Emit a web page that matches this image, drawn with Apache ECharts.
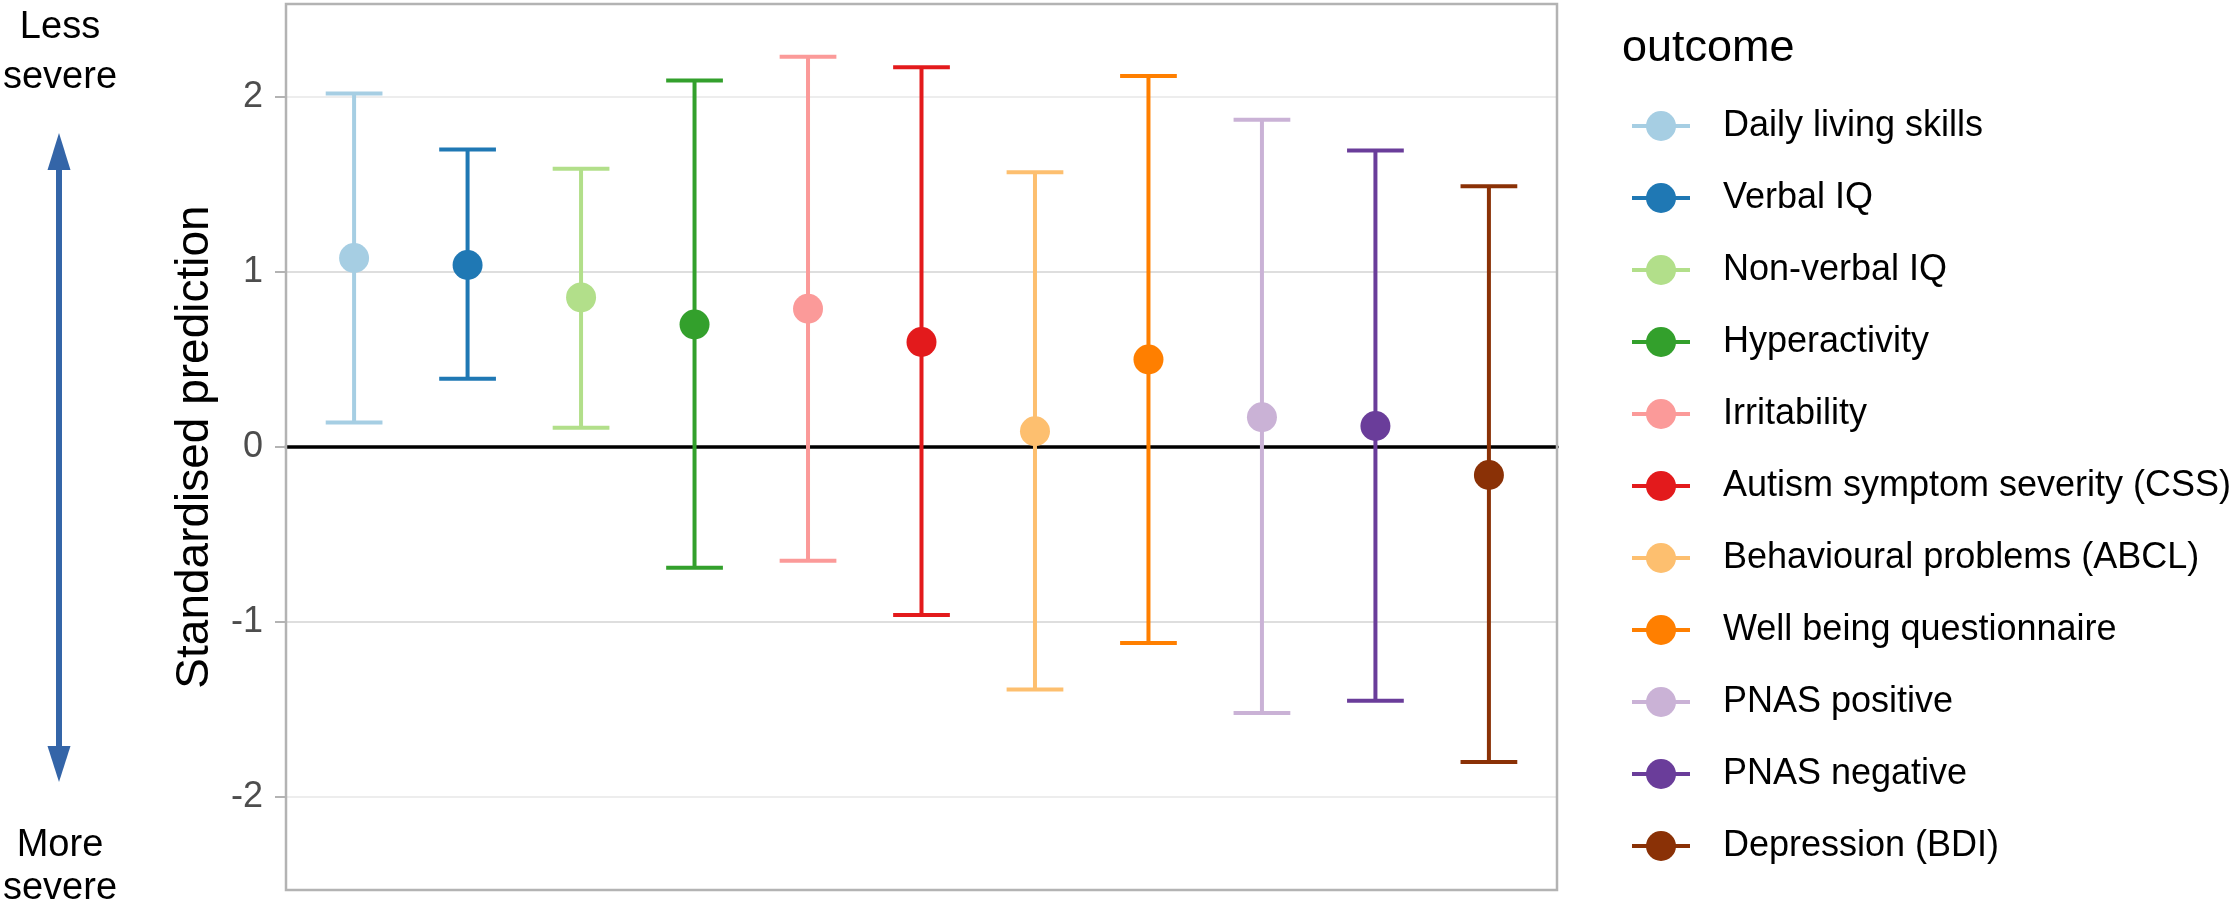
<!DOCTYPE html>
<html>
<head>
<meta charset="utf-8">
<script src="https://cdn.jsdelivr.net/npm/echarts@6/dist/echarts.min.js"></script>
<style>
html,body{margin:0;padding:0;background:#ffffff;}
#c{width:2236px;height:902px;}
</style>
</head>
<body>
<div id="c"></div>
<script>
// ---- data ----
const categories = [
  'Daily living skills',
  'Verbal IQ',
  'Non-verbal IQ',
  'Hyperactivity',
  'Irritability',
  'Autism symptom severity (CSS)',
  'Behavioural problems (ABCL)',
  'Well being questionnaire',
  'PNAS positive',
  'PNAS negative',
  'Depression (BDI)'
];
const estimate = [1.08, 1.04, 0.855, 0.70, 0.79, 0.60, 0.09, 0.50, 0.17, 0.12, -0.16];
const lower    = [0.14, 0.39, 0.11, -0.69, -0.65, -0.96, -1.385, -1.12, -1.52, -1.45, -1.80];
const upper    = [2.02, 1.70, 1.59, 2.095, 2.23, 2.17, 1.57, 2.12, 1.87, 1.695, 1.49];
const colors   = ['#A6CEE3', '#1F78B4', '#B2DF8A', '#33A02C', '#FB9A99', '#E31A1C',
                  '#FDBF6F', '#FF7F00', '#CAB2D6', '#6A3D9A', '#8A3106'];
const yTicks = [-2, -1, 0, 1, 2];
const yTitle = 'Standardised prediction';
const legendTitle = 'outcome';
const topNote = ['Less', 'severe'];
const bottomNote = ['More', 'severe'];

// ---- chart ----
const FONT = '"Liberation Sans", Arial, Helvetica, sans-serif';
const chart = echarts.init(document.getElementById('c'), null, {renderer: 'canvas'});

const series = [];
categories.forEach(function (name, i) {
  series.push({
    type: 'line',
    name: name,
    data: [[i + 1, estimate[i]]],
    symbol: 'circle',
    symbolSize: 30,
    itemStyle: {color: colors[i], borderWidth: 0},
    lineStyle: {color: colors[i], width: 4},
    z: 5,
    silent: true
  });
});
categories.forEach(function (name, i) {
  series.push({
    type: 'custom',
    name: name,
    data: [[i + 1, lower[i], upper[i]]],
    z: 3,
    silent: true,
    renderItem: function (params, api) {
      const x = api.value(0);
      const lo = api.coord([x, api.value(1)]);
      const hi = api.coord([x, api.value(2)]);
      const hw = api.size([0.5, 0])[0] / 2;
      const st = {stroke: colors[i], lineWidth: 4, fill: null};
      return {
        type: 'group',
        children: [
          {type: 'line', shape: {x1: lo[0], y1: lo[1], x2: hi[0], y2: hi[1]}, style: st},
          {type: 'line', shape: {x1: lo[0] - hw, y1: lo[1], x2: lo[0] + hw, y2: lo[1]}, style: st},
          {type: 'line', shape: {x1: hi[0] - hw, y1: hi[1], x2: hi[0] + hw, y2: hi[1]}, style: st}
        ]
      };
    }
  });
});

const arrowColor = '#3465A8';
const noteFont = 38;

const option = {
  animation: false,
  backgroundColor: '#ffffff',
  grid: {left: 286, right: 679, top: 9.5, bottom: 17.5, containLabel: false, show: false},
  xAxis: {
    type: 'value',
    min: 0.4,
    max: 11.6,
    axisLine: {show: true, onZero: true, lineStyle: {color: '#000000', width: 3.5}},
    axisTick: {show: false},
    axisLabel: {show: false},
    splitLine: {show: false}
  },
  yAxis: {
    type: 'value',
    min: -2.5,
    max: 2.5,
    interval: 0.5,
    name: yTitle,
    nameLocation: 'middle',
    nameGap: 68,
    nameRotate: 90,
    nameTextStyle: {fontSize: 46, color: '#000000', fontFamily: FONT},
    axisLine: {show: false},
    axisTick: {show: true, length: 11, customValues: yTicks, lineStyle: {color: '#B3B3B3', width: 2}},
    axisLabel: {customValues: yTicks, fontSize: 36, color: '#4D4D4D', margin: 23, fontFamily: FONT},
    splitLine: {show: true, lineStyle: {color: ['#EDEDED', '#DEDEDE'], width: 2}}
  },
  legend: {
    orient: 'vertical',
    left: 1625,
    top: 103,
    itemWidth: 58,
    itemHeight: 37.5,
    itemGap: 36,
    data: categories,
    selectedMode: false,
    lineStyle: {width: 4},
    textStyle: {fontSize: 36, color: '#000000', fontFamily: FONT, padding: [0, 0, 0, 28]}
  },
  graphic: [
    {type: 'rect', shape: {x: 286, y: 4, width: 1271, height: 886},
     style: {fill: 'none', stroke: '#B3B3B3', lineWidth: 2.5}, z: 10, silent: true},
    {type: 'text', x: 1622, y: 49, style: {text: legendTitle, fontSize: 45, fontFamily: FONT, fill: '#000000', align: 'left', verticalAlign: 'middle'}},
    {type: 'text', x: 60, y: 28, style: {text: topNote[0], fontSize: noteFont, fontFamily: FONT, fill: '#000000', align: 'center', verticalAlign: 'middle'}},
    {type: 'text', x: 60, y: 78, style: {text: topNote[1], fontSize: noteFont, fontFamily: FONT, fill: '#000000', align: 'center', verticalAlign: 'middle'}},
    {type: 'text', x: 60, y: 846, style: {text: bottomNote[0], fontSize: noteFont, fontFamily: FONT, fill: '#000000', align: 'center', verticalAlign: 'middle'}},
    {type: 'text', x: 60, y: 889, style: {text: bottomNote[1], fontSize: noteFont, fontFamily: FONT, fill: '#000000', align: 'center', verticalAlign: 'middle'}},
    {type: 'line', shape: {x1: 59, y1: 165, x2: 59, y2: 750}, style: {stroke: arrowColor, lineWidth: 6}},
    {type: 'polygon', shape: {points: [[59, 133], [47.5, 170], [70.5, 170]]}, style: {fill: arrowColor}},
    {type: 'polygon', shape: {points: [[59, 782], [47.5, 746], [70.5, 746]]}, style: {fill: arrowColor}}
  ],
  series: series
};
chart.setOption(option);
</script>
</body>
</html>
